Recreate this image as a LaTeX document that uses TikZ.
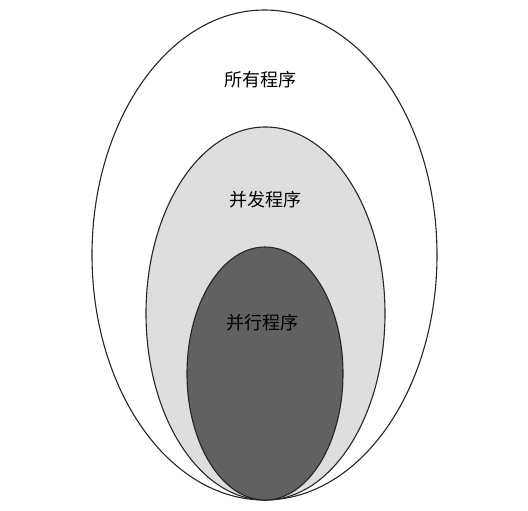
\documentclass[tikz,border=0pt]{standalone}
\usepackage{fontspec}
\newfontfamily\cjk{Noto Sans CJK SC}
\begin{document}
\begin{tikzpicture}[x=1pt,y=-1pt,
  ring/.style={draw=black!85, line width=1.1pt},
  lbl/.style={font=\cjk\fontsize{18}{20}\selectfont, inner sep=0pt}]
\useasboundingbox (0,0) rectangle (528,511);
\draw[ring, fill=white] (264.5,255) ellipse [x radius=172.5, y radius=245];
\draw[ring, fill=black!13] (265.5,313.5) ellipse [x radius=119.5, y radius=186.5];
\draw[ring, fill=black!62] (265,373.5) ellipse [x radius=78, y radius=126.5];
\node[lbl] (all) at (260,80) {所有程序};
\node[lbl] (conc) at (265,200) {并发程序};
\node[lbl] (par) at (262.5,323) {并行程序};
\end{tikzpicture}
\end{document}
